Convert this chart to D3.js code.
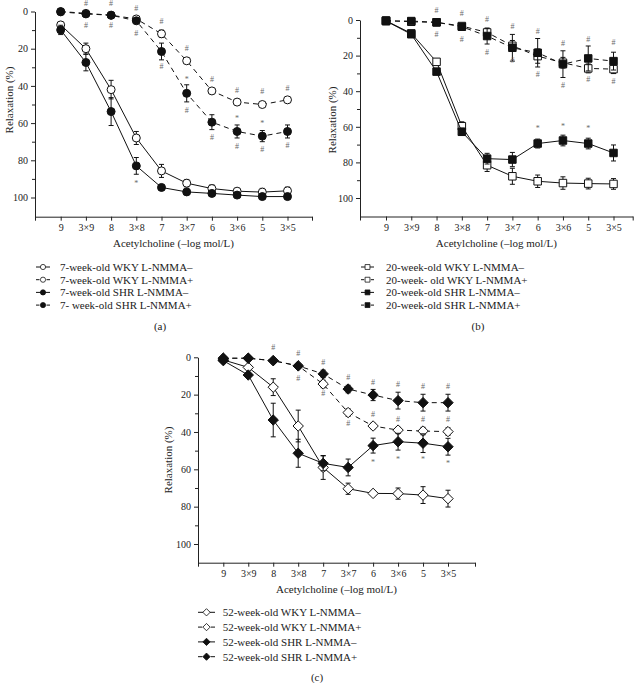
<!DOCTYPE html>
<html>
<head>
<meta charset="utf-8">
<script src="https://cdn.jsdelivr.net/npm/d3@7"></script>
<style>
  html, body { margin: 0; padding: 0; background: #fff; }
  svg { display: block; font-family: "Liberation Serif", "DejaVu Serif", serif; }
</style>
</head>
<body>
<svg id="chart" width="638" height="683"></svg>
<script>
// ---------------- DATA ----------------
const categories = ["9", "3×9", "8", "3×8", "7", "3×7", "6", "3×6", "5", "3×5"];
const yTickValues = [0, 20, 40, 60, 80, 100];
const yMinorTickValues = [10, 30, 50, 70, 90];

// Panel (a) – 7-week-old
const aWkyMinus    = [7.2, 20, 42, 68, 85.7, 92.3, 95.2, 96.6, 97.1, 96.4];
const aWkyMinusErr = [1.5, 3, 5, 3.5, 3.5, 2, 2, 1.5, 2, 2];
const aWkyPlus     = [0, 1, 2, 4, 12, 26.5, 42.7, 48.7, 50, 47.5];
const aWkyPlusErr  = [0.5, 0.5, 0.5, 1, 2, 1.5, 1, 1, 1, 1.5];
const aShrMinus    = [9.9, 27.4, 53.8, 83, 94.6, 97, 97.8, 98.7, 99.5, 99.5];
const aShrMinusErr = [2.5, 4.5, 7.5, 4.5, 1.5, 1, 1, 1, 1, 1];
const aShrPlus     = [0.2, 1.3, 2, 5, 21.5, 44, 59.5, 64.5, 67, 64.5];
const aShrPlusErr  = [0.5, 0.5, 0.5, 1, 4.5, 4.6, 4, 3.5, 3, 3.5];
const aLegend = ["7-week-old WKY L-NMMA–", "7-week-old WKY L-NMMA+", "7-week-old SHR L-NMMA–", "7- week-old SHR L-NMMA+"];
// annotations: [category index, value, symbol]
const aMarks = [
  [1, -4.5, "#"], [1, 7.7, "#"], [2, -4.5, "#"], [2, 7.7, "#"],
  [3, -1.8, "#"], [3, 11.7, "#"], [4, 5.4, "#"], [4, 29.6, "#"],
  [5, 19.7, "#"], [5, 36.7, "*"], [5, 53, "#"], [6, 36.7, "#"], [6, 68, "#"],
  [7, 42.5, "#"], [7, 57.3, "*"], [7, 72.6, "#"], [8, 43, "#"], [8, 60.4, "*"], [8, 74.4, "#"],
  [9, 41.2, "#"], [9, 72, "#"], [3, 92.3, "*"]
];

// Panel (b) – 20-week-old
const bWkyMinus    = [0.4, 7.5, 23.5, 59.7, 81.6, 87.8, 90.6, 91.6, 91.9, 92.1];
const bWkyMinusErr = [0.5, 0.5, 1.5, 2.5, 3.5, 4.5, 3.5, 3.5, 3, 3];
const bWkyPlus     = [0.3, 1, 1.3, 3.4, 7, 14.5, 20.3, 24, 27.2, 27.6];
const bWkyPlusErr  = [0.3, 0.5, 0.5, 1, 2, 3, 4, 3, 2.5, 2.5];
const bShrMinus    = [0.6, 8, 29, 62.8, 77.9, 78.4, 69.4, 67.7, 69.4, 74.7];
const bShrMinusErr = [0.5, 0.5, 1.5, 2, 3, 4, 2.5, 3, 3, 4.5];
const bShrPlus     = [0.6, 0.6, 1.3, 3.8, 9, 15.6, 18.4, 24.8, 21.6, 23.1];
const bShrPlusErr  = [0.3, 0.5, 0.5, 1.5, 4.5, 7.5, 8, 7.5, 7, 5];
const bLegend = ["20-week-old WKY L-NMMA–", "20-week- old WKY L-NMMA+", "20-week-old SHR L-NMMA–", "20-week-old SHR L-NMMA+"];
const bMarks = [
  [2, -5.3, "#"], [2, 7.9, "#"], [3, -3.4, "#"], [3, 10.9, "#"],
  [4, -0.4, "#"], [4, 18.2, "#"], [5, 3.8, "#"], [5, 23, "#"],
  [6, 6.6, "#"], [6, 30.4, "#"], [7, 13.1, "#"], [7, 36.6, "#"],
  [8, 10.7, "#"], [8, 33.2, "#"], [9, 12.8, "#"], [9, 34.7, "#"],
  [6, 61.2, "*"], [7, 59.7, "*"], [8, 61, "*"]
];

// Panel (c) – 52-week-old
const cWkyMinus    = [1.4, 5.4, 16, 36.8, 59, 70.4, 72.9, 73, 73.8, 75.7];
const cWkyMinusErr = [0.5, 1, 4.5, 8.5, 6.4, 3, 1, 3, 4.5, 4.5];
const cWkyPlus     = [0.5, 0.5, 1.8, 4.6, 14.3, 29.6, 36.8, 39, 39.5, 39.8];
const cWkyPlusErr  = [0.5, 0.5, 0.5, 1, 2, 2, 1.5, 1.5, 2, 2];
const cShrMinus    = [1.8, 9.5, 33.6, 51.4, 56.8, 59, 47.3, 45.2, 46, 47.9];
const cShrMinusErr = [0.5, 1, 9, 7.5, 4, 4.5, 4, 4.5, 5, 4.5];
const cShrPlus     = [0.5, 0.5, 1.8, 4.6, 8.9, 17, 20.2, 23.2, 24.3, 24.3];
const cShrPlusErr  = [0.5, 0.5, 0.5, 1, 2, 2, 3, 4.5, 4.5, 4.5];
const cLegend = ["52-week-old WKY L-NMMA–", "52-week-old WKY L-NMMA+", "52-week-old SHR L-NMMA–", "52-week-old SHR L-NMMA+"];
const cMarks = [
  [2, -5.4, "#"], [3, -2.1, "#"], [3, 11.3, "#"], [4, 2.9, "#"], [4, 19.3, "#"],
  [5, 10.7, "#"], [5, 35.4, "#"], [6, 13.6, "#"], [6, 30.4, "#"],
  [7, 14.5, "#"], [7, 33.2, "#"], [8, 15.7, "#"], [8, 33.2, "#"], [9, 15.7, "#"], [9, 33.2, "#"],
  [6, 56.3, "*"], [7, 54.5, "*"], [8, 55, "*"], [9, 57.1, "*"]
];

const xTitle = "Acetylcholine (–log mol/L)";
const yTitle = "Relaxation (%)";

// ---------------- LAYOUT ----------------
const panels = [
  { caption: "(a)", shape: "circle",
    left: 35, first: 60.7, last: 287.5, right: 312, y0: 11.5, y100: 197.5, bottom: 216.7,
    yLabelX: 9, yLabelY: 100, legX: 36, legW: 14, legTextX: 60, legY: 267, legDy: 12.7, capX: 160, capY: 326,
    series: [
      { v: aWkyMinus, e: aWkyMinusErr, filled: false, dashed: false },
      { v: aWkyPlus, e: aWkyPlusErr, filled: false, dashed: true },
      { v: aShrMinus, e: aShrMinusErr, filled: true, dashed: false },
      { v: aShrPlus, e: aShrPlusErr, filled: true, dashed: true }
    ], legend: aLegend, marks: aMarks },
  { caption: "(b)", shape: "square",
    left: 360, first: 386, last: 613.5, right: 632.7, y0: 20, y100: 198, bottom: 216.5,
    yLabelX: 332, yLabelY: 120, legX: 361, legW: 13, legTextX: 386, legY: 267, legDy: 12.7, capX: 478, capY: 326,
    series: [
      { v: bWkyMinus, e: bWkyMinusErr, filled: false, dashed: false },
      { v: bWkyPlus, e: bWkyPlusErr, filled: false, dashed: true },
      { v: bShrMinus, e: bShrMinusErr, filled: true, dashed: false },
      { v: bShrPlus, e: bShrPlusErr, filled: true, dashed: true }
    ], legend: bLegend, marks: bMarks },
  { caption: "(c)", shape: "diamond",
    left: 198, first: 223.3, last: 448, right: 475, y0: 357.3, y100: 544, bottom: 562.7,
    yLabelX: 168, yLabelY: 460, legX: 198, legW: 17, legTextX: 222.7, legY: 612.3, legDy: 14.8, capX: 317, capY: 677,
    series: [
      { v: cWkyMinus, e: cWkyMinusErr, filled: false, dashed: false },
      { v: cWkyPlus, e: cWkyPlusErr, filled: false, dashed: true },
      { v: cShrMinus, e: cShrMinusErr, filled: true, dashed: false },
      { v: cShrPlus, e: cShrPlusErr, filled: true, dashed: true }
    ], legend: cLegend, marks: cMarks }
];

const svg = d3.select("#chart");

function markerPath(shape) {
  if (shape === "circle") return d3.symbol(d3.symbolCircle, Math.PI * 4 * 4)();
  if (shape === "square") return d3.symbol(d3.symbolSquare, 7.5 * 7.5)();
  const r = 5.2;
  return `M0,${-r}L${r},0L0,${r}L${-r},0Z`;
}

panels.forEach(p => {
  const g = svg.append("g");
  // x scale: categories indexed 1..10
  const xs0 = d3.scaleLinear().domain([1, 10]).range([p.first, p.last]);
  const xLo = xs0.invert(p.left), xHi = xs0.invert(p.right);
  const x = d3.scaleLinear().domain([xLo, xHi]).range([p.left, p.right]);
  const yMax = 100 * (p.bottom - p.y0) / (p.y100 - p.y0);
  const y = d3.scaleLinear().domain([0, yMax]).range([p.y0, p.bottom]);

  // axes
  const xAxis = d3.axisBottom(x)
    .tickValues([xLo, 1, 2, 3, 4, 5, 6, 7, 8, 9, 10, xHi])
    .tickFormat(d => (Number.isInteger(d) && d >= 1 && d <= 10) ? categories[d - 1] : "")
    .tickSize(4).tickSizeOuter(0).tickPadding(3);
  const gx = g.append("g").attr("transform", `translate(0,${p.bottom})`).call(xAxis);
  gx.selectAll("text").attr("font-size", 10).attr("font-family", "Liberation Serif").attr("fill", "#222");

  const yAxis = d3.axisLeft(y).tickValues(yTickValues).tickSize(4).tickSizeOuter(0).tickPadding(3);
  const gy = g.append("g").attr("transform", `translate(${p.left},0)`).call(yAxis);
  gy.selectAll("text").attr("font-size", 10).attr("font-family", "Liberation Serif").attr("fill", "#222");
  const yMinor = d3.axisLeft(y).tickValues(yMinorTickValues).tickSize(3).tickFormat("").tickSizeOuter(0);
  const gym = g.append("g").attr("transform", `translate(${p.left},0)`).call(yMinor);
  gym.select(".domain").remove();
  g.selectAll(".domain, .tick line").attr("stroke", "#222").attr("stroke-width", 1);

  // titles
  g.append("text").attr("x", (p.left + p.right) / 2).attr("y", p.bottom + 30)
    .attr("text-anchor", "middle").attr("font-size", 11).attr("fill", "#222").text(xTitle);
  g.append("text").attr("transform", `translate(${p.yLabelX},${p.yLabelY}) rotate(-90)`)
    .attr("text-anchor", "middle").attr("dominant-baseline", "central")
    .attr("font-size", 11).attr("fill", "#222").text(yTitle);

  const idx = d3.range(1, 11);
  const line = d3.line().x(d => x(d[0])).y(d => y(d[1]));
  const mp = markerPath(p.shape);

  p.series.forEach(s => {
    const pts = idx.map((i, k) => [i, s.v[k], s.e[k]]);
    const sg = g.append("g");
    sg.append("path").attr("d", line(pts)).attr("fill", "none")
      .attr("stroke", "#111").attr("stroke-width", 1)
      .attr("stroke-dasharray", s.dashed ? "5,4" : null);
    // error bars
    const eb = sg.selectAll(".eb").data(pts).enter().append("g");
    eb.append("line").attr("x1", d => x(d[0])).attr("x2", d => x(d[0]))
      .attr("y1", d => y(d[1] - d[2])).attr("y2", d => y(d[1] + d[2]))
      .attr("stroke", "#111").attr("stroke-width", 1);
    [-1, 1].forEach(sign => {
      eb.append("line").attr("x1", d => x(d[0]) - 2.5).attr("x2", d => x(d[0]) + 2.5)
        .attr("y1", d => y(d[1] + sign * d[2])).attr("y2", d => y(d[1] + sign * d[2]))
        .attr("stroke", "#111").attr("stroke-width", 1);
    });
    sg.selectAll(".mk").data(pts).enter().append("path")
      .attr("d", mp).attr("transform", d => `translate(${x(d[0])},${y(d[1])})`)
      .attr("fill", s.filled ? "#111" : "#fff").attr("stroke", "#111").attr("stroke-width", 1);
  });

  // significance marks
  g.selectAll(".sig").data(p.marks).enter().append("text")
    .attr("x", d => x(d[0] + 1)).attr("y", d => y(d[1]))
    .attr("text-anchor", "middle").attr("dominant-baseline", "central")
    .attr("font-size", 8).attr("fill", "#6a6a6a").text(d => d[2]);

  // legend
  p.legend.forEach((label, k) => {
    const s = p.series[k];
    const ly = p.legY + k * p.legDy;
    const lg = g.append("g");
    lg.append("line").attr("x1", p.legX).attr("x2", p.legX + p.legW).attr("y1", ly).attr("y2", ly)
      .attr("stroke", "#111").attr("stroke-width", 1)
      .attr("stroke-dasharray", s.dashed ? `${p.legW * 0.25},${p.legW * 0.5}` : null);
    const sc = p.shape === "diamond" ? 0.7 : 0.65;
    lg.append("path").attr("d", mp)
      .attr("transform", `translate(${p.legX + p.legW / 2},${ly}) scale(${sc})`)
      .attr("fill", s.filled ? "#111" : "#fff").attr("stroke", "#111").attr("stroke-width", 1.2);
    lg.append("text").attr("x", p.legTextX).attr("y", ly).attr("dominant-baseline", "central")
      .attr("font-size", 11).attr("fill", "#222").text(label);
  });

  g.append("text").attr("x", p.capX).attr("y", p.capY).attr("text-anchor", "middle")
    .attr("dominant-baseline", "central").attr("font-size", 11).attr("fill", "#222").text(p.caption);
});
</script>
</body>
</html>
